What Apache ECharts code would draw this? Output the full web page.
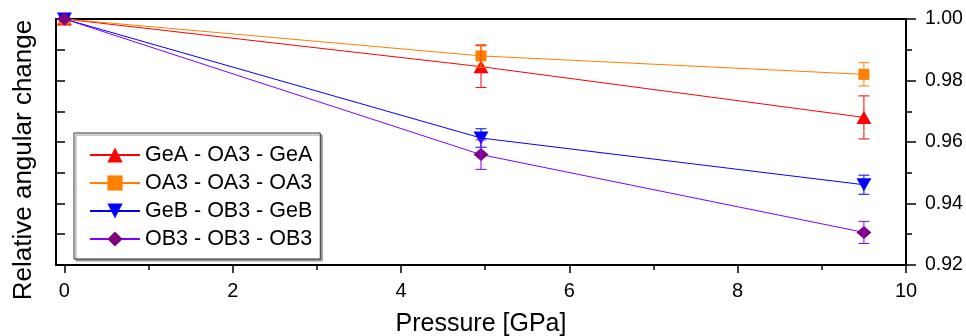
<!DOCTYPE html>
<html><head><meta charset="utf-8">
<script src="https://cdn.jsdelivr.net/npm/echarts@6/dist/echarts.min.js"></script>
<style>html,body{margin:0;padding:0;background:#fff}#c{width:966px;height:336px}</style>
</head><body><div id="c"></div>
<script>
const pressure = [0, 4.95, 9.5];
const names = ['GeA - OA3 - GeA', 'OA3 - OA3 - OA3', 'GeB - OB3 - GeB', 'OB3 - OB3 - OB3'];
const geaVals = [1.0, 0.9845, 0.968];
const geaErr = [0, 0.0068, 0.007];
const oa3Vals = [1.0, 0.988, 0.982];
const oa3Err = [0, 0.0037, 0.0038];
const gebVals = [1.0, 0.9613, 0.9461];
const gebErr = [0, 0.003, 0.0031];
const ob3Vals = [1.0, 0.9559, 0.9306];
const ob3Err = [0, 0.0048, 0.0036];
const xMajorTicks = [0, 2, 4, 6, 8, 10];
const xMinorTicks = [1, 3, 5, 7, 9];
const yMajorTicks = [0.92, 0.94, 0.96, 0.98, 1.00];
const yMinorTicks = [0.93, 0.95, 0.97, 0.99];
const yAllTicks = [0.92, 0.93, 0.94, 0.95, 0.96, 0.97, 0.98, 0.99, 1.00];
const xTitle = 'Pressure [GPa]';
const yTitle = 'Relative angular change';

const markerColors = ['#ff0000', '#ff8000', '#0000ff', '#800080'];
const lineColors = ['#ff0000', '#ff8000', '#0000ff', '#8000ff'];
const symbols = ['triangle', 'rect', 'triangle', 'diamond'];
const symbolSizes = [[15, 13], [11, 11], [15, 13], [15, 13]];
const rotates = [0, 0, 180, 0];
const valsList = [geaVals, oa3Vals, gebVals, ob3Vals];
const errList = [geaErr, oa3Err, gebErr, ob3Err];

const FONT = "'Liberation Sans', Arial, sans-serif";

const series = [];
valsList.forEach((vals, i) => {
  series.push({
    name: names[i], type: 'line', xAxisIndex: 0, yAxisIndex: 0,
    data: pressure.map((p, k) => [p, vals[k]]),
    symbol: symbols[i], symbolSize: symbolSizes[i], symbolRotate: rotates[i],
    showSymbol: true,
    itemStyle: { color: markerColors[i] },
    lineStyle: { color: lineColors[i], width: 1 },
    z: 3
  });
});
valsList.forEach((vals, i) => {
  series.push({
    type: 'custom', xAxisIndex: 0, yAxisIndex: 0, z: 4,
    data: pressure.map((p, k) => [p, vals[k], errList[i][k]]).filter(d => d[2] > 0),
    renderItem: function (params, api) {
      const x = api.value(0), y = api.value(1), e = api.value(2);
      const top = api.coord([x, y + e]);
      const bot = api.coord([x, y - e]);
      const hw = 5.5;
      const st = { stroke: lineColors[i], lineWidth: 1 };
      return { type: 'group', children: [
        { type: 'line', shape: { x1: top[0], y1: top[1], x2: bot[0], y2: bot[1] }, style: st },
        { type: 'line', shape: { x1: top[0] - hw, y1: top[1], x2: top[0] + hw, y2: top[1] }, style: st },
        { type: 'line', shape: { x1: bot[0] - hw, y1: bot[1], x2: bot[0] + hw, y2: bot[1] }, style: st }
      ]};
    },
    silent: true
  });
});

const chart = echarts.init(document.getElementById('c'));
chart.setOption({
  animation: false,
  backgroundColor: '#fff',
  grid: { left: 56, right: 60, top: 19, bottom: 71, containLabel: false, outerBoundsMode: 'none' },
  graphic: [{
    type: 'text', x: 37, y: 160, rotation: Math.PI / 2, silent: true,
    style: { text: yTitle, font: "26px 'Liberation Sans', Arial, sans-serif", fill: '#000',
      textAlign: 'center', textVerticalAlign: 'bottom' }
  }],
  legend: {
    data: names,
    orient: 'vertical', left: 74, top: 133,
    itemWidth: 50, itemHeight: 19, itemGap: 6,
    padding: [11, 8, 9, 15],
    backgroundColor: '#fff', borderColor: '#333', borderWidth: 1,
    shadowColor: '#999', shadowOffsetX: 2, shadowOffsetY: 2, shadowBlur: 0,
    textStyle: { fontFamily: FONT, fontSize: 21.5, color: '#000' }
  },
  xAxis: [
    {
      type: 'value', position: 'bottom', min: -0.1, max: 10,
      name: xTitle, nameLocation: 'middle', nameGap: 47,
      nameTextStyle: { fontFamily: FONT, fontSize: 25, color: '#000' },
      axisLine: { show: true, onZero: false, lineStyle: { color: '#000', width: 2 } },
      axisTick: { show: true, inside: false, length: 8, customValues: xMajorTicks, lineStyle: { color: '#000', width: 1.5 } },
      axisLabel: { customValues: xMajorTicks, margin: 16, fontFamily: FONT, fontSize: 20, color: '#000' },
      splitLine: { show: false }
    },
    {
      type: 'value', position: 'bottom', min: -0.1, max: 10,
      axisLine: { show: false, onZero: false },
      axisTick: { show: true, inside: false, length: 5, customValues: xMinorTicks, lineStyle: { color: '#000', width: 1.5 } },
      axisLabel: { show: false }, splitLine: { show: false }
    },
    {
      type: 'value', position: 'top', min: -0.1, max: 10,
      axisLine: { show: true, onZero: false, lineStyle: { color: '#000', width: 2 } },
      axisTick: { show: false }, axisLabel: { show: false }, splitLine: { show: false }
    }
  ],
  yAxis: [
    {
      type: 'value', position: 'left', min: 0.92, max: 1.0,
      axisLine: { show: true, onZero: false, lineStyle: { color: '#000', width: 2 } },
      axisTick: { show: true, inside: true, length: 9, customValues: yAllTicks, lineStyle: { color: '#000', width: 1.5 } },
      axisLabel: { show: false }, splitLine: { show: false }
    },
    {
      type: 'value', position: 'right', min: 0.92, max: 1.0,
      axisLine: { show: true, onZero: false, lineStyle: { color: '#000', width: 2 } },
      axisTick: { show: true, inside: false, length: 10, customValues: yMajorTicks, lineStyle: { color: '#000', width: 1.5 } },
      axisLabel: { customValues: yMajorTicks, margin: 19, fontFamily: FONT, fontSize: 19.5, color: '#000',
        formatter: v => v.toFixed(2) },
      splitLine: { show: false }
    },
    {
      type: 'value', position: 'right', min: 0.92, max: 1.0,
      axisLine: { show: false, onZero: false },
      axisTick: { show: true, inside: false, length: 6, customValues: yMinorTicks, lineStyle: { color: '#000', width: 1.5 } },
      axisLabel: { show: false }, splitLine: { show: false }
    }
  ],
  series: series
});
</script></body></html>
